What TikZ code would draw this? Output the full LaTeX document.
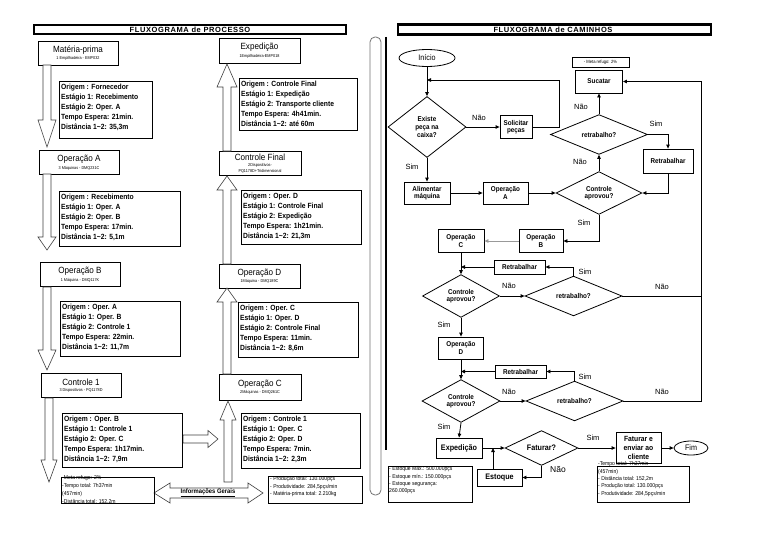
\documentclass[tikz,border=0pt]{standalone}
\usepackage{fontspec}
\setmainfont{Liberation Sans}
\newfontfamily\nar[FakeStretch=0.9]{Liberation Sans}
\newfontfamily\ttlf[LetterSpace=8.0]{Liberation Sans}
\usetikzlibrary{shapes.geometric,arrows.meta}
\newcommand\blkv[7]{\draw[blk] (#1,#3) -- (#1,#4) -- (#5,#4) -- ({(#5+#6)/2},#7) -- (#6,#4) -- (#2,#4) -- (#2,#3) -- cycle;}
\tikzset{
  tbox/.style={draw, line width=0.8pt, minimum width=80pt, minimum height=24pt, inner sep=0pt, align=center, font=\nar\fontsize{4.2}{4.8}\selectfont},
  infobox/.style={draw, line width=0.8pt, inner sep=0pt, anchor=north west},
  infotext/.style={anchor=north west, align=left, inner sep=0pt, font=\nar\bfseries\fontsize{7.5}{10}\selectfont},
  gtext/.style={anchor=north west, align=left, inner sep=0pt, font=\nar\fontsize{5.6}{7.8}\selectfont},
  blk/.style={draw=black!75, line width=0.6pt, fill=white, line join=miter},
  fbox/.style={draw, line width=0.8pt, inner sep=0pt, align=center, font=\nar\bfseries\fontsize{7}{7.6}\selectfont},
  dia/.style={diamond, draw, line width=0.8pt, inner sep=0pt, align=center, font=\nar\bfseries\fontsize{7}{7.6}\selectfont},
  oval/.style={ellipse, draw, line width=0.8pt, inner sep=0pt, font=\nar\fontsize{8}{8}\selectfont},
  lbl/.style={inner sep=0pt, font=\fontsize{7.5}{8}\selectfont},
  arr/.style={line width=0.8pt, -{Triangle[length=4pt,width=3.5pt]}},
  ln/.style={line width=0.8pt},
  ttl/.style={inner sep=0pt, font=\ttlf\bfseries\fontsize{7.5}{8}\selectfont}
}
\newcommand\ttt[1]{{\fontsize{9}{9.5}\selectfont #1}}
\newcommand\sbt[1]{#1}
\begin{document}
\begin{tikzpicture}[x=1pt,y=-1pt]
\useasboundingbox (0,0) rectangle (768,543);
\fill[white] (0,0) rectangle (768,543);

% ---------- title bars ----------
\draw[line width=2.5pt] (34,25) rectangle (346,34);
\node[ttl] (t1) at (190,29.6) {FLUXOGRAMA de PROCESSO};
\draw[line width=2.5pt] (398,24.5) rectangle (711,34.5);
\node[ttl] (t2) at (553,29.6) {FLUXOGRAMA de CAMINHOS};

% ---------- divider ----------
\draw[draw=black!55, line width=0.8pt, rounded corners=5pt] (370,37) rectangle (381,495);
\draw[line width=1.4pt] (386,37) -- (386,450);

% ---------- left column ----------
\node[tbox] (mp) at (78,53) {\ttt{Matéria-prima}\\[1.5pt]\sbt{1 Empilhadeira - EMP032}};
\node[tbox] (opA) at (79,162.5) {\ttt{Operação A}\\[1.5pt]\sbt{3 Máquinas - DMQ231C}};
\node[tbox] (opB) at (80,274.5) {\ttt{Operação B}\\[1.5pt]\sbt{1 Máquina - DMQ117K}};
\node[tbox] (c1) at (81,385.5) {\ttt{Controle 1}\\[1.5pt]\sbt{3 Dispositivos - PQ1178D}};

% right column
\node[tbox, minimum width=81pt, minimum height=25pt] (exp) at (259.5,50.5) {\ttt{Expedição}\\[1.5pt]\sbt{1Empilhadeira-EMP018}};
\node[tbox, minimum width=82pt, minimum height=24pt] (cf) at (260,163.5) {\ttt{Controle Final}\\[1.5pt]\sbt{2Dispositivos-}\\[0.5pt]\sbt{PQ1178D+Tridimensional}};
\node[tbox, minimum width=81pt] (opD) at (259.5,276) {\ttt{Operação D}\\[1.5pt]\sbt{1Máquina - DMQ189C}};
\node[tbox, minimum width=82pt, minimum height=26pt] (opC) at (260,387) {\ttt{Operação C}\\[1.5pt]\sbt{2Máquinas - DMQ261C}};

% block arrows
\blkv{43}{51}{65}{120}{38}{56}{147}
\blkv{43}{51}{174}{237}{38}{56}{250}
\blkv{43}{51}{287}{350}{38}{56}{370}
\blkv{45}{53}{398}{460}{41}{57}{482}
\blkv{223}{231}{151}{87}{217}{237}{64}
\blkv{223}{231}{264}{190}{217}{237}{176}
\blkv{223}{231}{374}{302}{217}{237}{288}
\blkv{224}{232}{482}{420}{220}{236}{401}
\draw[blk] (183,435) -- (208,435) -- (208,430.5) -- (218,439) -- (208,447.5) -- (208,443) -- (183,443) -- cycle;
\draw[blk] (154,493) -- (170,483) -- (170,488) -- (248,488) -- (248,483) -- (263,493) -- (248,503) -- (248,498) -- (170,498) -- (170,503) -- cycle;
\node[inner sep=0pt, font=\nar\bfseries\fontsize{6.5}{7}\selectfont] (ig) at (208,493) {\underline{Informações Gerais}};

% info boxes
\node[infobox, minimum width=93pt, minimum height=57pt] (i1) at (59,81) {};
\node[infotext] (i1t) at ([shift={(2,3)}]i1.north west) {Origem : Fornecedor\\Estágio 1: Recebimento\\Estágio 2: Oper. A\\Tempo Espera: 21min.\\Distância 1\textasciitilde2: 35,3m};
\node[infobox, minimum width=121pt, minimum height=55pt] (iA) at (59,191) {};
\node[infotext] (iAt) at ([shift={(2,3)}]iA.north west) {Origem : Recebimento\\Estágio 1: Oper. A\\Estágio 2: Oper. B\\Tempo Espera: 17min.\\Distância 1\textasciitilde2: 5,1m};
\node[infobox, minimum width=120pt, minimum height=55pt] (iB) at (60,301) {};
\node[infotext] (iBt) at ([shift={(2,3)}]iB.north west) {Origem : Oper. A\\Estágio 1: Oper. B\\Estágio 2: Controle 1\\Tempo Espera: 22min.\\Distância 1\textasciitilde2: 11,7m};
\node[infobox, minimum width=120pt, minimum height=54pt] (iC1) at (62,413) {};
\node[infotext] (iC1t) at ([shift={(2,3)}]iC1.north west) {Origem : Oper. B\\Estágio 1: Controle 1\\Estágio 2: Oper. C\\Tempo Espera: 1h17min.\\Distância 1\textasciitilde2: 7,9m};
\node[infobox, minimum width=118pt, minimum height=52pt] (iE) at (239,78) {};
\node[infotext] (iEt) at ([shift={(2,3)}]iE.north west) {Origem : Controle Final\\Estágio 1: Expedição\\Estágio 2: Transporte cliente\\Tempo Espera: 4h41min.\\Distância 1\textasciitilde2: até 60m};
\node[infobox, minimum width=120pt, minimum height=54pt] (iCF) at (241,190) {};
\node[infotext] (iCFt) at ([shift={(2,3)}]iCF.north west) {Origem : Oper. D\\Estágio 1: Controle Final\\Estágio 2: Expedição\\Tempo Espera: 1h21min.\\Distância 1\textasciitilde2: 21,3m};
\node[infobox, minimum width=120pt, minimum height=55pt] (iD) at (238,302) {};
\node[infotext] (iDt) at ([shift={(2,3)}]iD.north west) {Origem : Oper. C\\Estágio 1: Oper. D\\Estágio 2: Controle Final\\Tempo Espera: 11min.\\Distância 1\textasciitilde2: 8,6m};
\node[infobox, minimum width=119pt, minimum height=55pt] (iC) at (241,413) {};
\node[infotext] (iCt) at ([shift={(2,3)}]iC.north west) {Origem : Controle 1\\Estágio 1: Oper. C\\Estágio 2: Oper. D\\Tempo Espera: 7min.\\Distância 1\textasciitilde2: 2,3m};

% general info boxes
\node[infobox, minimum width=93pt, minimum height=26pt] (gl) at (61,477) {};
\node[gtext] (glt) at ([shift={(1,-1.5)}]gl.north west) {-Meta refugo: 2\%\\-Tempo total: 7h37min\\(457min)\\-Distância total: 152,2m};
\node[infobox, minimum width=94pt, minimum height=27pt] (gr) at (268,476) {};
\node[gtext, font=\nar\fontsize{5.6}{7.3}\selectfont] (grt) at ([shift={(2,0.5)}]gr.north west) {- Produção total: 130.000pçs\\- Produtividade: 284,5pçs/min\\- Matéria-prima total: 2.210kg};

% ---------- right panel ----------
\node[oval, minimum width=56pt, minimum height=17pt] (inicio) at (427,58) {Início};
\node[dia, minimum width=78pt, minimum height=61pt] (d1) at (427,127) {Existe\\peça na\\caixa?};
\node[fbox, minimum width=32pt, minimum height=23pt] (sol) at (516,127) {Solicitar\\peças};
\node[fbox, minimum width=46pt, minimum height=22pt] (alim) at (427,193) {Alimentar\\máquina};
\node[fbox, minimum width=45pt, minimum height=22pt] (opAr) at (505.5,193) {Operação\\A};
\node[dia, minimum width=86pt, minimum height=42pt] (d2) at (599,193) {Controle\\aprovou?};
\node[dia, minimum width=97pt, minimum height=27pt] (r1) at (599,134.5) {retrabalho?};
\node[fbox, minimum width=47pt, minimum height=23pt] (suc) at (599,81.5) {Sucatar};
\node[draw, line width=0.6pt, inner sep=0pt, minimum width=57pt, minimum height=10pt, font=\nar\fontsize{4.6}{5}\selectfont] (meta) at (600.5,62) {- Meta refugo: 2\%};
\node[fbox, minimum width=50pt, minimum height=24pt] (rt1) at (668,161) {Retrabalhar};
\node[fbox, minimum width=44pt, minimum height=23pt] (opBr) at (541,241) {Operação\\B};
\node[fbox, minimum width=46pt, minimum height=23pt] (opCr) at (461,241) {Operação\\C};
\node[fbox, minimum width=51pt, minimum height=14pt] (rt2) at (519.5,267) {Retrabalhar};
\node[dia, minimum width=77pt, minimum height=41pt] (d3) at (461,296) {Controle\\aprovou?};
\node[dia, minimum width=97pt, minimum height=26pt] (r2) at (573.5,296) {retrabalho?};
\node[fbox, minimum width=45pt, minimum height=22pt] (opDr) at (461,348) {Operação\\D};
\node[fbox, minimum width=51pt, minimum height=13pt] (rt3) at (520.5,371.5) {Retrabalhar};
\node[dia, minimum width=78pt, minimum height=40pt] (d4) at (461,401) {Controle\\aprovou?};
\node[dia, minimum width=97pt, minimum height=26pt] (r3) at (574.5,401) {retrabalho?};
\node[fbox, minimum width=46pt, minimum height=20pt, font=\nar\bfseries\fontsize{8}{8}\selectfont] (expd) at (459,448) {Expedição};
\node[dia, minimum width=73pt, minimum height=27pt, font=\nar\bfseries\fontsize{8}{8}\selectfont] (fat) at (541.5,448) {Faturar?};
\node[fbox, minimum width=45pt, minimum height=17pt, font=\nar\bfseries\fontsize{8}{8}\selectfont] (est) at (499.5,477.5) {Estoque};
\node[fbox, minimum width=45pt, minimum height=31pt, font=\nar\bfseries\fontsize{7.5}{8.6}\selectfont] (fenv) at (638.5,448) {Faturar e\\enviar ao\\cliente};
\node[oval, minimum width=34pt, minimum height=14pt] (fim) at (691,448) {Fim};

% info boxes right
\node[infobox, minimum width=84pt, minimum height=36pt] (istk) at (388,466) {};
\node[gtext, font=\nar\fontsize{5.6}{7.2}\selectfont] (istkt) at ([shift={(1,0.5)}]istk.north west) {- Estoque Máx.: 500.000pçs\\- Estoque mín.: 150.000pçs\\- Estoque segurança:\\260.000pçs};
\node[infobox, minimum width=92pt, minimum height=36pt] (itot) at (597,466) {};
\node[gtext, font=\nar\fontsize{5.6}{7.4}\selectfont] (itott) at ([shift={(1,-4.5)}]itot.north west) {-Tempo total: 7h37min\\(457min)\\- Distância total: 152,2m\\- Produção total: 130.000pçs\\- Produtividade: 284,5pçs/min};

% coordinates
\coordinate (fb1) at (427,80);
\coordinate (rr) at (701,81.5);
\coordinate (ex) at (493,448);

% connectors
\draw[arr] (inicio.south) -- (d1.north);
\draw[arr] (d1.east) -- (sol.west);
\draw[arr] (sol.east) -- ++(27,0) |- (fb1);
\draw[arr] (d1.south) -- (alim.north);
\draw[arr] (alim.east) -- (opAr.west);
\draw[arr] (opAr.east) -- (d2.west);
\draw[arr] (d2.north) -- (r1.south);
\draw[arr] (r1.north) -- (suc.south);
\draw[arr] (r1.east) -| (rt1.north);
\draw[arr] (rt1.south) |- (d2.east);
\draw[arr] (d2.south) |- (opBr.east);
\draw[arr, draw=black!40] (opBr.west) -- (opCr.east);
\draw[arr] (opCr.south) -- (d3.north);
\draw[arr] (rt2.west) -- (rt2.west -| opCr.south);
\draw[arr] (r2.north) |- (rt2.east);
\draw[arr] (d3.east) -- (r2.west);
\draw[ln] (r2.east) -- (r2.east -| rr);
\draw[arr] (d3.south) -- (opDr.north);
\draw[arr] (opDr.south) -- (d4.north);
\draw[arr] (rt3.west) -- (rt3.west -| opDr.south);
\draw[arr] (r3.north) |- (rt3.east);
\draw[arr] (d4.east) -- (r3.west);
\draw[arr] (r3.east) -- (r3.east -| rr) -- (rr) -- (suc.east);
\draw[arr] (d4.south) -- (expd.north);
\draw[arr] (expd.east) -- (fat.west);
\draw[arr] (est.north -| ex) -- (ex);
\draw[arr] (fat.south) |- (est.east);
\draw[arr] (fat.east) -- (fenv.west);
\draw[arr] (fenv.east) -- (fim.west);

% labels
\node[lbl] (l1) at (479,118) {Não};
\node[lbl] (l2) at (412,167) {Sim};
\node[lbl] (l3) at (580,162) {Não};
\node[lbl] (l4) at (581,107) {Não};
\node[lbl] (l5) at (656,124) {Sim};
\node[lbl] (l6) at (584,223) {Sim};
\node[lbl] (l7) at (509,286) {Não};
\node[lbl] (l8) at (585,272) {Sim};
\node[lbl] (l9) at (662,287) {Não};
\node[lbl] (l10) at (444,325) {Sim};
\node[lbl] (l11) at (509,392) {Não};
\node[lbl] (l12) at (585,377) {Sim};
\node[lbl] (l13) at (662,392) {Não};
\node[lbl] (l14) at (444,427) {Sim};
\node[lbl, font=\fontsize{8.5}{9}\selectfont] (l15) at (558,469) {Não};
\node[lbl] (l16) at (593,438) {Sim};
\end{tikzpicture}
\end{document}
